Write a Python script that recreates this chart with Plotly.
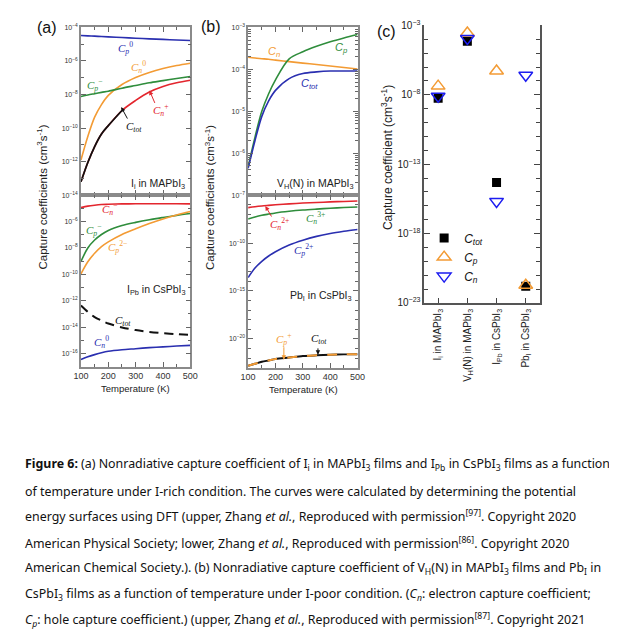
import numpy as np
import plotly.graph_objects as go

W, H = 617, 632

# ---------------- data (log10 of capture coefficient, cm^3 s^-1) ----------------
T = [100, 125, 150, 175, 200, 250, 300, 350, 400, 450, 500]

# (a) upper: I_i in MAPbI3
a_up_cp0 = [-4.48, -4.50, -4.52, -4.54, -4.56, -4.60, -4.64, -4.68, -4.71, -4.75, -4.78]
a_up_cn0 = [-11.9, -10.5, -9.35, -8.6, -8.05, -7.4, -6.98, -6.68, -6.45, -6.27, -6.13]
a_up_cpm = [-8.12, -8.03, -7.95, -7.87, -7.8, -7.62, -7.46, -7.3, -7.17, -7.04, -6.92]
a_up_cnp = [-13.2, -12.05, -11.1, -10.35, -9.85, -8.95, -8.35, -7.85, -7.52, -7.3, -7.15]
a_up_ctot = [-13.2, -12.05, -11.1, -10.35, -9.85, -8.95]
T_a_up_ctot = [100, 125, 150, 175, 200, 250]

# (a) lower: I_Pb in CsPbI3
a_lo_cnm = [-4.94, -4.83, -4.76, -4.71, -4.69, -4.66, -4.65, -4.65, -4.65, -4.65, -4.66]
a_lo_cpm = [-9.03, -8.0, -7.4, -6.98, -6.67, -6.3, -6.06, -5.86, -5.69, -5.53, -5.39]
a_lo_cp2m = [-9.97, -9.05, -8.4, -7.9, -7.54, -6.98, -6.55, -6.15, -5.8, -5.5, -5.24]
a_lo_ctot = [-12.37, -12.85, -13.24, -13.5, -13.73, -14.03, -14.23, -14.37, -14.47, -14.54, -14.6]
a_lo_cn0 = [-16.46, -16.25, -16.09, -15.95, -15.84, -15.72, -15.64, -15.56, -15.5, -15.44, -15.39]

# (b) upper: V_H(N) in MAPbI3
b_up_cn = [-3.71, -3.73, -3.745, -3.76, -3.78, -3.815, -3.85, -3.885, -3.92, -3.955, -3.99]
b_up_cp = [-6.32, -5.62, -5.0, -4.58, -4.25, -3.75, -3.58, -3.45, -3.34, -3.25, -3.17]
b_up_ctot = [-6.36, -5.7, -5.12, -4.75, -4.5, -4.22, -4.1, -4.06, -4.04, -4.04, -4.04]

# (b) lower: Pb_I in CsPbI3
b_lo_cn2p = [-6.3, -6.2, -6.12, -6.06, -6.0, -5.9, -5.82, -5.76, -5.7, -5.65, -5.61]
b_lo_cn3p = [-7.48, -7.27, -7.1, -6.97, -6.85, -6.68, -6.55, -6.45, -6.36, -6.29, -6.23]
b_lo_cp2p = [-13.6, -12.6, -11.9, -11.35, -10.9, -10.2, -9.7, -9.3, -9.0, -8.77, -8.58]
b_lo_ctot = [-22.8, -22.6, -22.4, -22.25, -22.1, -21.95, -21.8, -21.72, -21.66, -21.62, -21.6]

# (c) summary at room temperature
c_categories = ["I<sub>i</sub> in MAPbI<sub>3</sub>", "V<sub>H</sub>(N) in MAPbI<sub>3</sub>",
                "I<sub>Pb</sub> in CsPbI<sub>3</sub>", "Pb<sub>I</sub> in CsPbI<sub>3</sub>"]
c_ctot = [-8.25, -4.13, -14.31, -21.8]
c_cp = [-7.37, -3.54, -6.28, -21.72]
c_cn = [-8.1, -3.94, -15.68, -6.59]

caption_lines = [
    "<b>Figure 6:</b> (a) Nonradiative capture coefficient of I<sub>i</sub> in MAPbI<sub>3</sub> films and I<sub>Pb</sub> in CsPbI<sub>3</sub> films as a function",
    "of temperature under I-rich condition. The curves were calculated by determining the potential",
    "energy surfaces using DFT (upper, Zhang <i>et al.</i>, Reproduced with permission<sup>[97]</sup>. Copyright 2020",
    "American Physical Society; lower, Zhang <i>et al.</i>, Reproduced with permission<sup>[86]</sup>. Copyright 2020",
    "American Chemical Society.). (b) Nonradiative capture coefficient of V<sub>H</sub>(N) in MAPbI<sub>3</sub> films and Pb<sub>I</sub> in",
    "CsPbI<sub>3</sub> films as a function of temperature under I-poor condition. (<i>C<sub>n</sub></i>: electron capture coefficient;",
    "<i>C<sub>p</sub></i>: hole capture coefficient.) (upper, Zhang <i>et al.</i>, Reproduced with permission<sup>[87]</sup>. Copyright 2021",
]

# ---------------- styling ----------------
BLUE = "#2a2fb0"
ORANGE = "#f39b34"
GREEN = "#2f8d3c"
RED = "#e3262e"
BLACK = "#111111"
FRAME = "#8a8a8a"
SANS = "Liberation Sans, Arial, sans-serif"
SERIF = "Liberation Serif, DejaVu Serif, serif"


def p(v):
    return [10 ** x for x in v]


def px(x):
    return x / W


def py(y):
    return 1 - y / H


fig = go.Figure()


def line(xs, ys, color, ax, dash="solid", width=1.6):
    fig.add_trace(go.Scatter(x=xs, y=p(ys), mode="lines", line=dict(color=color, width=width, dash=dash, shape="spline", smoothing=0.9),
                             xaxis="x" + ax, yaxis="y" + ax, showlegend=False, hoverinfo="skip"))


# (a) upper -> axis 1
line(T, a_up_cp0, BLUE, "")
line(T, a_up_cn0, ORANGE, "")
line(T, a_up_cpm, GREEN, "")
line(T, a_up_cnp, RED, "")
line(T_a_up_ctot, a_up_ctot, BLACK, "", width=1.8)
# (a) lower -> axis 2
line(T, a_lo_cnm, RED, "2")
line(T, a_lo_cpm, GREEN, "2")
line(T, a_lo_cp2m, ORANGE, "2")
line(T, a_lo_ctot, BLACK, "2", dash="9px,6px", width=2)
line(T, a_lo_cn0, BLUE, "2")
# (b) upper -> axis 3
line(T, b_up_cn, ORANGE, "3")
line(T, b_up_cp, GREEN, "3")
line(T, b_up_ctot, BLUE, "3")
# (b) lower -> axis 4
line(T, b_lo_cn2p, RED, "4")
line(T, b_lo_cn3p, GREEN, "4")
line(T, b_lo_cp2p, BLUE, "4")
line(T, b_lo_ctot, BLACK, "4", width=2)
line(T, b_lo_ctot, ORANGE, "4", dash="10px,10px", width=2)

# (c) -> axis 5
cx = list(range(len(c_categories)))
fig.add_trace(go.Scatter(x=cx, y=p(c_ctot), mode="markers", name="<i>C<sub>tot</sub></i>",
                         marker=dict(symbol="square", size=9, color="black"), xaxis="x5", yaxis="y5"))
fig.add_trace(go.Scatter(x=cx, y=p(c_cp), mode="markers", name="<i>C<sub>p</sub></i>",
                         marker=dict(symbol="triangle-up-open", size=12, color=ORANGE, line=dict(width=1.5)), xaxis="x5", yaxis="y5"))
fig.add_trace(go.Scatter(x=cx, y=p(c_cn), mode="markers", name="<i>C<sub>n</sub></i>",
                         marker=dict(symbol="triangle-down-open", size=12, color="#1d1df0", line=dict(width=1.5)), xaxis="x5", yaxis="y5"))


def sup(e):
    return "10<sup>\u2212%d</sup>" % e


def temp_x(domain, labels, anchor):
    return dict(domain=domain, range=[100, 500], anchor=anchor, tickvals=[100, 200, 300, 400, 500],
                ticks="inside", ticklen=5, tickcolor="#666", tickwidth=1,
                minor=dict(tickvals=[150, 250, 350, 450], ticks="inside", ticklen=3, tickcolor="#666"),
                showline=True, linecolor=FRAME, linewidth=1.5, mirror="ticks", showgrid=False, zeroline=False,
                showticklabels=labels, tickfont=dict(family=SANS, size=9, color="#333"))


def log_y(domain, rng, major, minor, anchor, size=7):
    return dict(domain=domain, type="log", range=rng, anchor=anchor,
                tickvals=[10 ** e for e in major], ticktext=[sup(-e) for e in major],
                ticks="inside", ticklen=5, tickcolor="#666",
                minor=dict(tickvals=minor, ticks="inside", ticklen=3, tickcolor="#666"),
                showline=True, linecolor=FRAME, linewidth=1.5, mirror="ticks", showgrid=False, zeroline=False,
                tickfont=dict(family=SANS, size=size, color="#333"))


xa = [px(66.7), px(179)]
xb = [px(238.3), px(350.7)]
xc = [px(419.3), px(538.3)]
y_up = [py(184), py(12.7)]
y_alo = [py(359), py(184)]
y_blo = [py(360), py(184)]
y_c = [py(294), py(10.7)]

b_up_minor = [m * 10 ** e for e in range(-7, -3) for m in range(2, 10)]

fig.update_layout(
    width=W, height=H, margin=dict(l=0, r=0, t=0, b=0),
    paper_bgcolor="white", plot_bgcolor="white",
    xaxis=temp_x(xa, False, "y"),
    yaxis=log_y(y_up, [-14, -4], [-4, -6, -8, -10, -12, -14], [10 ** e for e in range(-13, -4, 2)], "x"),
    xaxis2=temp_x(xa, True, "y2"),
    yaxis2=log_y(y_alo, [-17, -4], [-6, -8, -10, -12, -14, -16], [10 ** e for e in range(-17, -4, 2)], "x2"),
    xaxis3=temp_x(xb, False, "y3"),
    yaxis3=log_y(y_up, [-7, -3], [-3, -4, -5, -6, -7], b_up_minor, "x3"),
    xaxis4=temp_x(xb, True, "y4"),
    yaxis4=log_y(y_blo, [-23, -5], [-10, -15, -20], [10 ** e for e in range(-23, -4) if e % 5 != 0], "x4"),
    xaxis5=dict(domain=xc, range=[-0.47, 3.5], anchor="y5", tickvals=cx, ticktext=c_categories, tickangle=-90,
                ticks="inside", ticklen=5, tickcolor="#444", showline=True, linecolor="#555", linewidth=2,
                showgrid=False, zeroline=False, tickfont=dict(family=SANS, size=10, color="#222")),
    yaxis5=dict(domain=y_c, type="log", range=[-23, -3], anchor="x5",
                tickvals=[10 ** e for e in [-3, -8, -13, -18, -23]], ticktext=[sup(e) for e in [3, 8, 13, 18, 23]],
                ticks="inside", ticklen=6, tickcolor="#444",
                minor=dict(tickvals=[10 ** e for e in range(-23, -3) if (e + 3) % 5 != 0], ticks="inside", ticklen=4, tickcolor="#444"),
                showline=True, linecolor="#555", linewidth=2, mirror="ticks", showgrid=False, zeroline=False,
                tickfont=dict(family=SANS, size=10, color="#222")),
    legend=dict(x=px(419), y=py(213), xanchor="left", yanchor="top", bgcolor="rgba(0,0,0,0)",
                font=dict(family=SANS, size=12, color="#111"), tracegroupgap=0, itemwidth=30),
)

anns = []


def txt(s, x, y, size=10, color="#222", family=SANS, xanchor="center", angle=0):
    anns.append(dict(text=s, x=px(x), y=py(y), xref="paper", yref="paper", showarrow=False,
                     xanchor=xanchor, yanchor="middle", textangle=angle,
                     font=dict(family=family, size=size, color=color)))


def arrow(hx, hy, tx, ty, color):
    anns.append(dict(text="", x=px(hx), y=py(hy), xref="paper", yref="paper", showarrow=True,
                     ax=tx - hx, ay=ty - hy, arrowhead=2, arrowsize=0.9, arrowwidth=1, arrowcolor=color))


def C(sub, supr=""):
    s = "<i>C</i><sub><i>%s</i></sub>" % sub
    if supr:
        s += "<sup>%s</sup>" % supr
    return s


# panel letters
txt("(a)", 32, 13, size=16, color="#111")
txt("(b)", 200, 12, size=16, color="#111")
txt("(c)", 380, 17, size=16, color="#111")

# y axis titles
txt("Capture coefficients (cm<sup>3</sup>s<sup>-1</sup>)", 27, 186, size=11.5, angle=-90)
txt("Capture coefficients (cm<sup>3</sup>s<sup>-1</sup>)", 199, 186, size=11.5, angle=-90)
txt("Capture coefficient (cm<sup>3</sup>s<sup>-1</sup>)", 381, 146, size=12, angle=-90)

# x axis titles
txt("Temperature (K)", 123, 381, size=9.5)
txt("Temperature (K)", 295, 382, size=9.5)

# system labels
txt("I<sub>i</sub> in MAPbI<sub>3</sub>", 176, 173, size=10.5, xanchor="right")
txt("I<sub>Pb</sub> in CsPbI<sub>3</sub>", 177, 281, size=10.5, xanchor="right")
txt("V<sub>H</sub>(N) in MAPbI<sub>3</sub>", 349, 173, size=10.5, xanchor="right")
txt("Pb<sub>I</sub> in CsPbI<sub>3</sub>", 347, 287, size=10.5, xanchor="right")

# (a) upper curve labels
txt(C("p", "0"), 112, 34, size=11, color=BLUE, family=SERIF)
txt(C("n", "0"), 126, 53, size=11, color=ORANGE, family=SERIF)
txt(C("p", "\u2212"), 81, 71, size=11, color=GREEN, family=SERIF)
txt(C("n", "+"), 149, 97, size=11, color=RED, family=SERIF)
txt(C("tot"), 121, 114, size=11, color=BLACK, family=SERIF)
arrow(137, 77, 143, 91, RED)
arrow(108, 94, 115, 107, BLACK)

# (a) lower labels
txt(C("n", "\u2212"), 97, 198, size=11, color=RED, family=SERIF)
txt(C("p", "\u2212"), 80, 220, size=11, color=GREEN, family=SERIF)
txt(C("p", "2\u2212"), 104, 237, size=11, color=ORANGE, family=SERIF)
txt(C("tot"), 110, 312, size=11, color=BLACK, family=SERIF)
txt(C("n", "0"), 88, 334, size=11, color=BLUE, family=SERIF)

# (b) upper labels
txt(C("n"), 265, 38, size=11, color=ORANGE, family=SANS)
txt(C("p"), 334, 34, size=11, color=GREEN, family=SANS)
txt(C("tot"), 301, 70, size=11, color=BLUE, family=SANS)

# (b) lower labels
txt(C("n", "2+"), 271, 213, size=11, color=RED, family=SERIF)
txt(C("n", "3+"), 307, 207, size=11, color=GREEN, family=SERIF)
txt(C("p", "2+"), 295, 240, size=11, color=BLUE, family=SERIF)
txt(C("p", "+"), 275, 331, size=11, color=ORANGE, family=SERIF)
txt(C("tot"), 311, 331, size=11, color=BLACK, family=SERIF)
arrow(256, 195, 263, 207, RED)
arrow(275, 352, 275, 338, ORANGE)
arrow(310, 347, 310, 339, BLACK)

# caption
cap_y = [459, 486, 512, 539, 565, 592, 618]
for s, yy in zip(caption_lines, cap_y):
    txt(s, 7, yy, size=12.4, color="#111", family="Noto Sans, sans-serif", xanchor="left")

fig.update_layout(annotations=anns)
fig.write_html("out.html")
